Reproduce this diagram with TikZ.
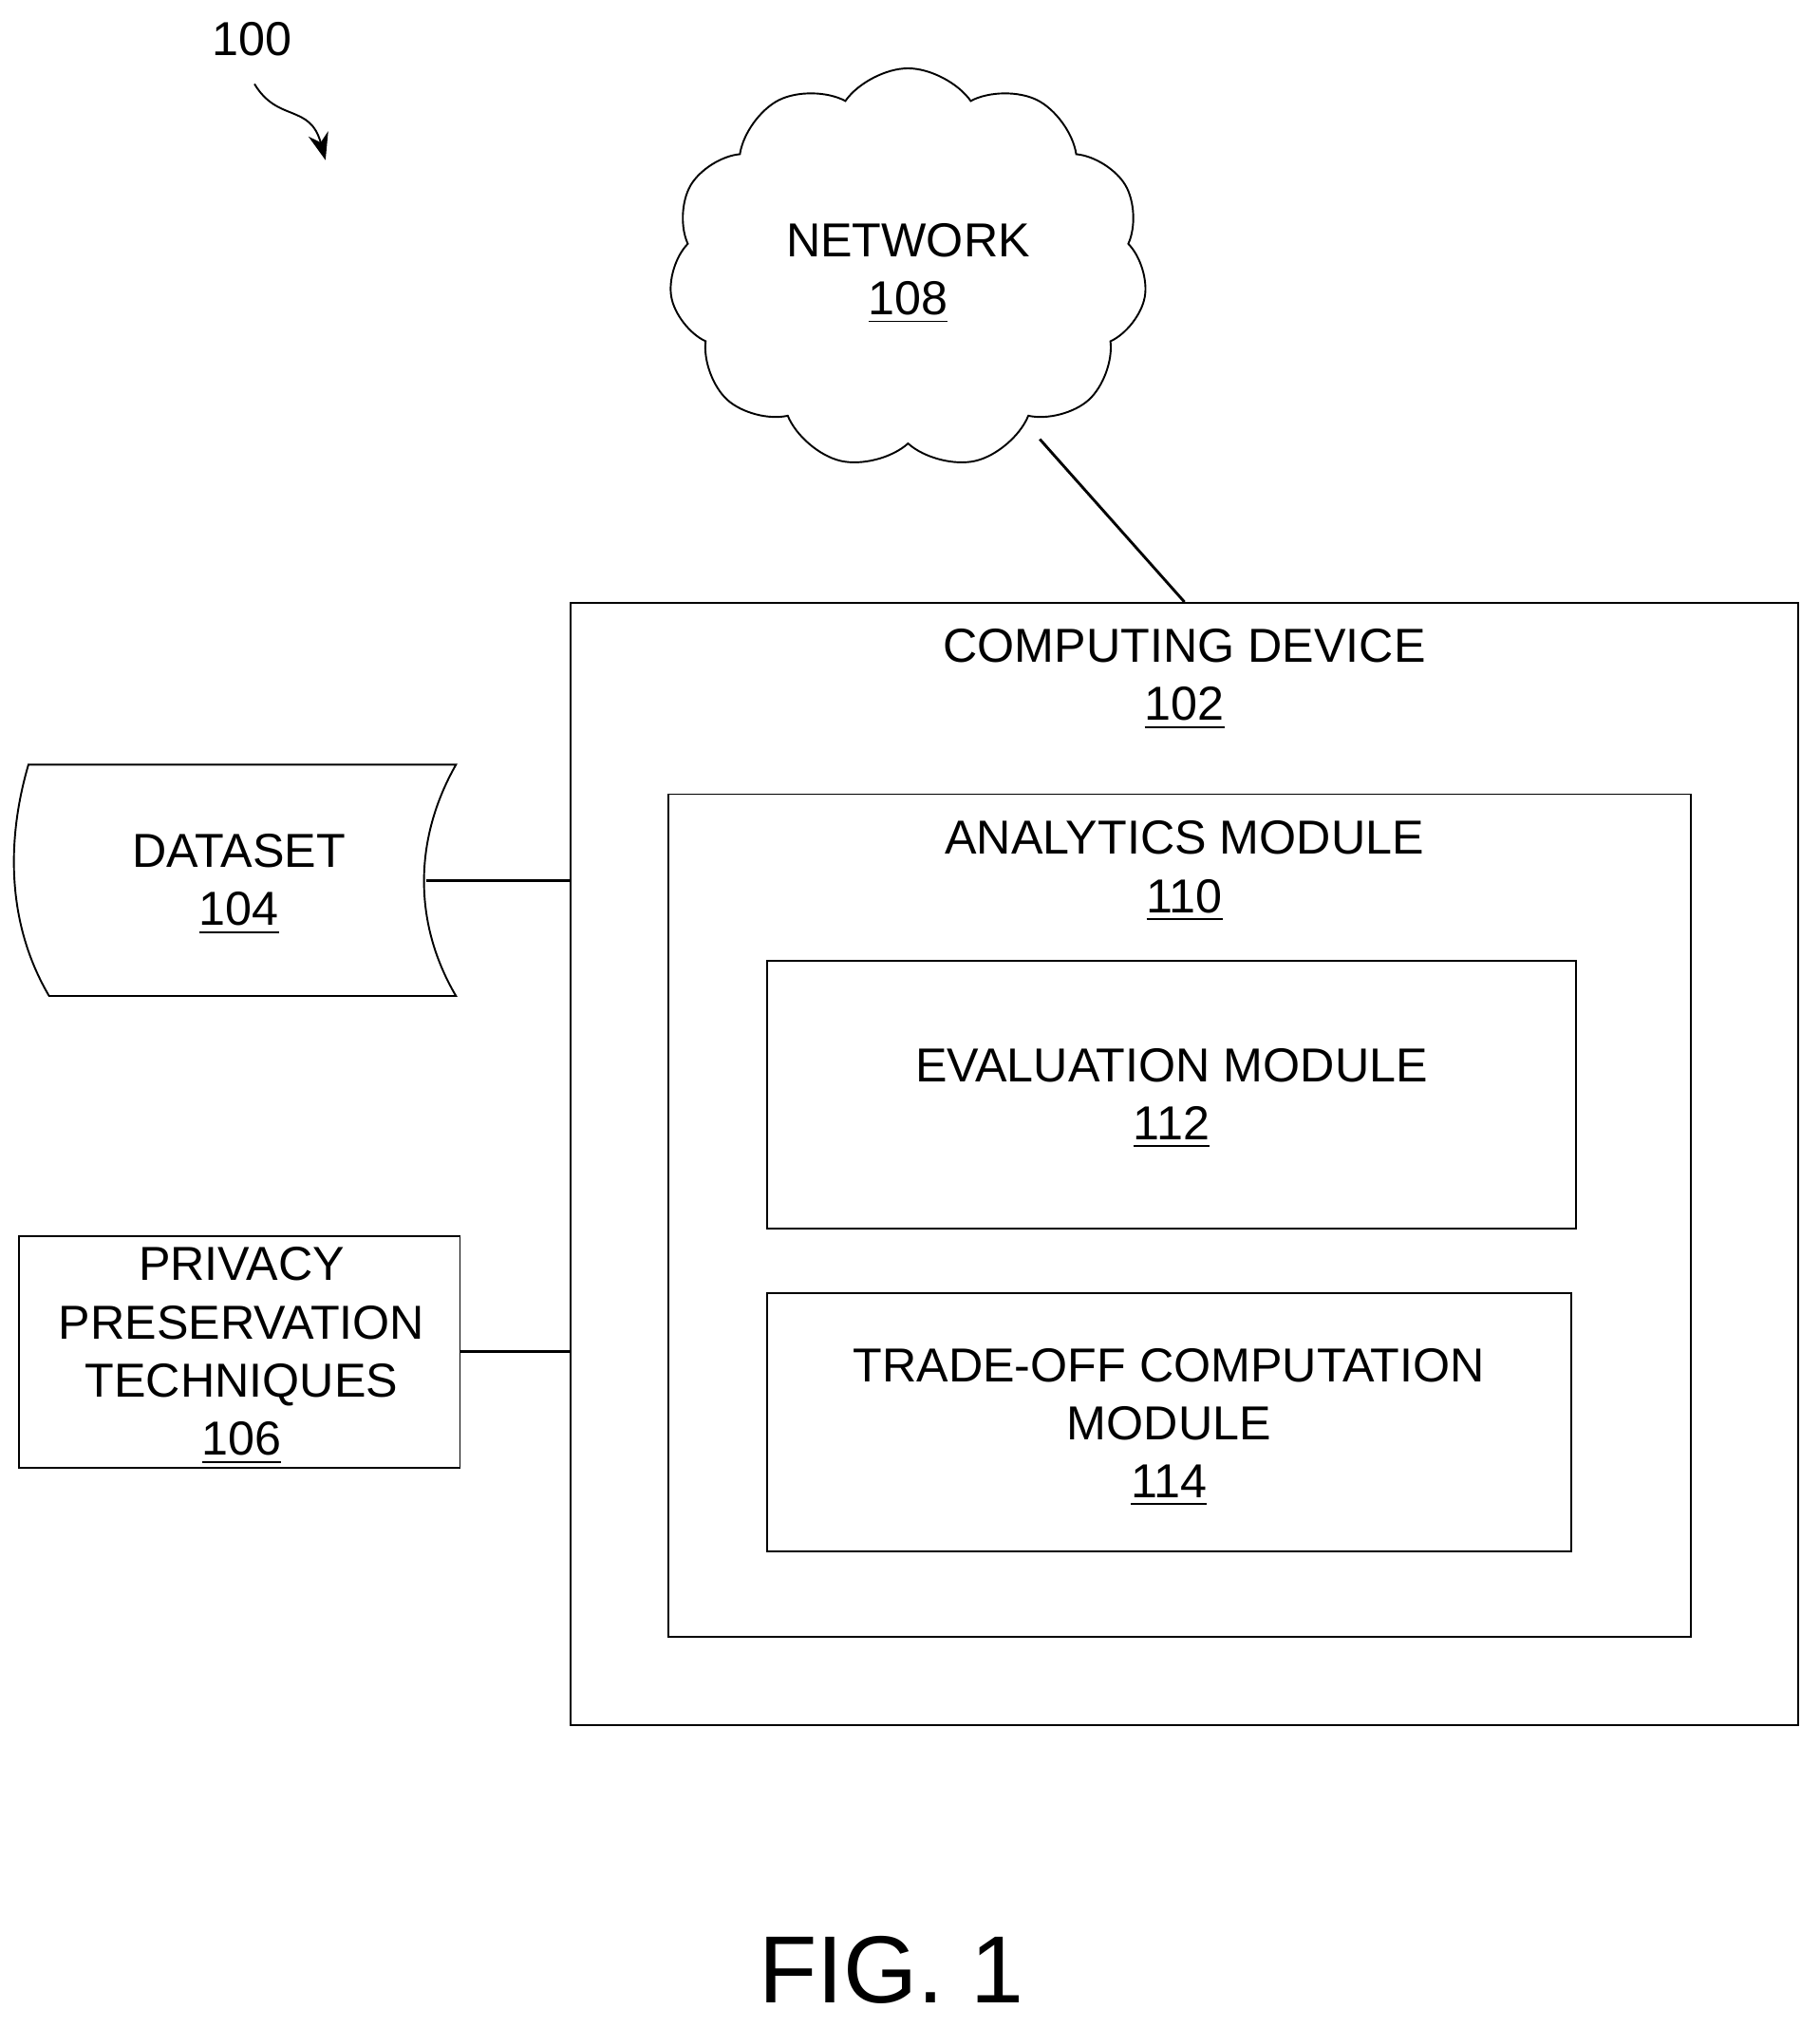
\documentclass[tikz,border=0pt]{standalone}
\usepackage{fontspec}
\setmainfont{Liberation Sans}
\usetikzlibrary{shapes.symbols, arrows.meta}

\tikzset{
  box/.style = {draw, thin, inner sep=0pt},
  lbl/.style = {align=center, font=\fontsize{10.5pt}{12.8pt}\selectfont, inner sep=0pt, anchor=north},
  wire/.style = {semithick}
}

\begin{document}
\begin{tikzpicture}[x=0.01cm, y=-0.01cm]
		\useasboundingbox (0,0) rectangle (1409,1570);
		%%%%%%%%%%%%%
		\node (ref) at (195,30) {\fontsize{10.5pt}{12pt}\selectfont 100};
		\coordinate (refA) at (197,65);
		\coordinate (refB) at (252,124);
		\draw [-{Stealth[length=6pt]}] (refA) .. controls (215,95) and (240,80) .. (refB);
		%%%%%%%%%%%%%
		\node (net) [cloud, draw, thin, cloud puffs=11, cloud puff arc=110, aspect=1.1,
		  minimum width=3.7cm, minimum height=3.1cm] at (703,208) {};
		\node [lbl] at (703,172) {NETWORK\\\underline{108}};
		%%%%%%%%%%%%%
		\node (dev) [box, minimum width=9.5cm, minimum height=8.68cm] at (917,901) {};
		\node [lbl] at (917,486) {COMPUTING DEVICE\\\underline{102}};
		\node (ana) [box, minimum width=7.91cm, minimum height=6.52cm] at (913.5,941) {};
		\node [lbl] at (917,635) {ANALYTICS MODULE\\\underline{110}};
		\node (eval) [box, minimum width=6.26cm, minimum height=2.07cm] at (907,847.5) {};
		\node [lbl] at (907,811) {EVALUATION MODULE\\\underline{112}};
		\node (trade) [box, minimum width=6.22cm, minimum height=2.0cm] at (905,1101) {};
		\node [lbl] at (905,1043) {TRADE-OFF COMPUTATION\\MODULE\\\underline{114}};
		%%%%%%%%%%%%%
		\draw [thin] (22,592) -- (353,592) .. controls (320,650) and (320,715) .. (353,771)
		  -- (38,771) .. controls (5,715) and (5,650) .. (22,592) -- cycle;
		\coordinate (data) at (330,682);
		\node [lbl] at (185,645) {DATASET\\\underline{104}};
		\node (priv) [box, minimum width=3.41cm, minimum height=1.79cm] at (185.5,1046.5) {};
		\node [lbl] at (187,965) {PRIVACY\\PRESERVATION\\TECHNIQUES\\\underline{106}};
		%%%%%%%%%%%%%
		\draw [wire] (data) -- (data -| dev.west);
		\draw [wire] (priv.east) -- (priv.east -| dev.west);
		\draw [wire] (805,340) -- (dev.north);
		%%%%%%%%%%%%%
		\node (fig) at (690,1525) {\fontsize{21pt}{23pt}\selectfont FIG. 1};
\end{tikzpicture}
\end{document}
